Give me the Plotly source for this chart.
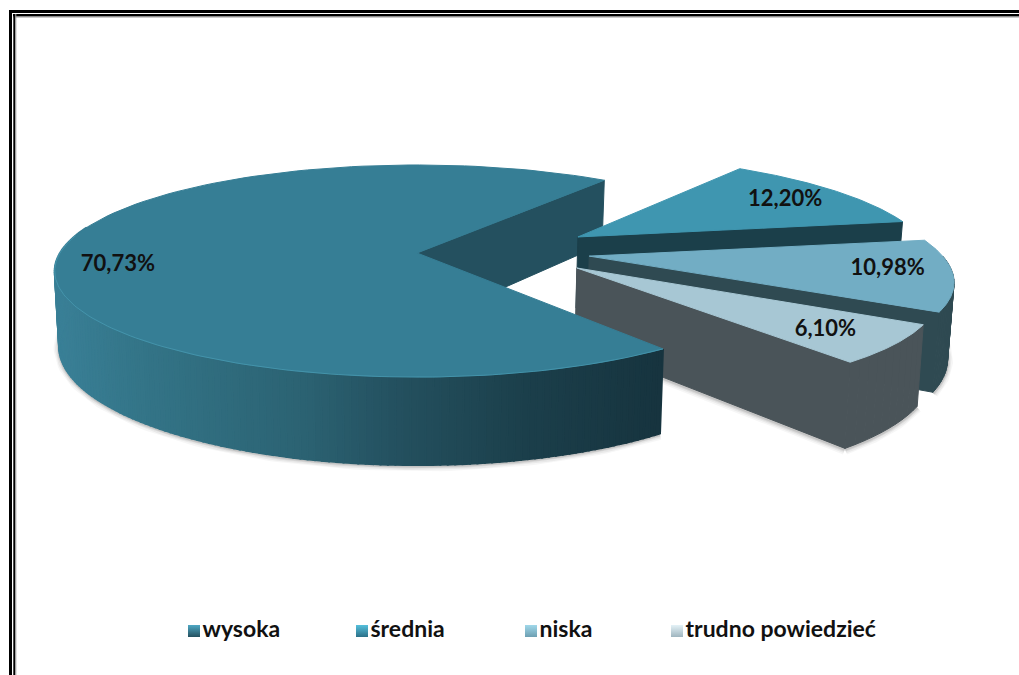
import numpy as np
import plotly.graph_objects as go

categories = ["wysoka", "średnia", "niska", "trudno powiedzieć"]
values = [70.73, 12.20, 10.98, 6.10]
first_angle = 142.0
main_front_trim = 1.5

top_colors = ["#367e95", "#3f96b0", "#72adc4", "#a7c7d4"]
face_colors = ["#24505f", "#1b3f4a", "#2f4a52", "#4a5459"]
legend_top = ["#4fa8c4", "#55c0dc", "#a0d8ea", "#e4f2f7"]
legend_bottom = ["#24505f", "#2c7088", "#6d9fb2", "#9fb5bf"]
explode_x = [0.0, 0.463, 0.48, 0.437]
explode_z = [0.0, 0.16, -0.03, -0.142]
radius = [1.0, 0.985, 0.985, 0.96]
label_theta = [264, 57.2, 96.6, 131]
label_r = [0.83, 0.8, 0.816, 0.77]
label_dy = 3
legend_x = [194, 362, 531, 677]
legend_y = 631

CX, CY, A, B, H, P, SHRINK = 417, 253, 357, 103, 73, 0.17, 0.012
FONT = "Lato"


def project(x, z, y=0.0):
    x, z = np.asarray(x, float), np.asarray(z, float)
    w = 1 + P * z
    return CX + A * x / w * (1 - SHRINK * y), CY + (-B * z + H * y) / w


def ring(i, th, y=0.0):
    t = np.radians(th)
    return project(explode_x[i] + radius[i] * np.sin(t), explode_z[i] + radius[i] * np.cos(t), y)


def lerp_color(sx):
    xs = [55, 140, 300, 400, 520, 662]
    rgb = np.array([[58, 128, 151], [52, 117, 136], [44, 99, 115], [36, 80, 95], [28, 64, 76], [23, 52, 63]])
    return "rgb(%d,%d,%d)" % tuple(np.interp(sx, xs, rgb[:, k]) for k in range(3))


fig = go.Figure()


def poly(xs, ys, color, width=1.0):
    fig.add_trace(go.Scatter(x=list(xs), y=list(ys), mode="lines", fill="toself", fillcolor=color,
                             line=dict(color=color, width=width), hoverinfo="skip", showlegend=False))


total = sum(values)
spans = [360 * v / total for v in values]
starts = [first_angle + sum(spans[:k]) for k in range(4)]
ends = [s + d for s, d in zip(starts, spans)]
starts[0] += main_front_trim


def arc(i, a=None, b=None):
    return np.linspace(starts[i] if a is None else a, ends[i] if b is None else b, 120)


def face(i, th):
    ax0, ay0 = project(explode_x[i], explode_z[i])
    ax1, ay1 = project(explode_x[i], explode_z[i], 1)
    ox0, oy0 = ring(i, th)
    ox1, oy1 = ring(i, th, 1)
    poly([ax0, ox0, ox1, ax1, ax0], [ay0, oy0, oy1, ay1, ay0], face_colors[i])


def top(i):
    xs, ys = ring(i, arc(i))
    ax, ay = project(explode_x[i], explode_z[i])
    poly(np.r_[ax, xs, ax], np.r_[ay, ys, ay], top_colors[i])


def rim(i, a, b, count=24, shade=None):
    edges = np.linspace(a, b, count + 1)
    for e0, e1 in zip(edges[:-1], edges[1:]):
        th = np.array([e0, e1])
        x0, y0 = ring(i, th)
        x1, y1 = ring(i, th, 1)
        col = shade(x0.mean()) if shade else face_colors[i]
        poly(np.r_[x0, x1[::-1], x0[0]], np.r_[y0, y1[::-1], y0[0]], col, width=2 if shade else 1)


# soft shadow under the lower outline
shadow_arcs = [(0, starts[0], 285), (2, 450, ends[2]), (3, starts[3], ends[3])]
for width, alpha in [(11, 0.035), (8, 0.05), (5, 0.07), (3, 0.09)]:
    for i, a, b in shadow_arcs:
        sx, sy = ring(i, arc(i, a, b), 1)
        fig.add_trace(go.Scatter(x=sx, y=sy + 1, mode="lines", hoverinfo="skip", showlegend=False,
                                 line=dict(color=f"rgba(0,0,0,{alpha})", width=width)))
    sx0, sy0 = project(explode_x[3], explode_z[3], 1)
    sx1, sy1 = ring(3, np.array([ends[3]]), 1)
    fig.add_trace(go.Scatter(x=[sx0, sx1[0]], y=[sy0 + 1, sy1[0] + 1], mode="lines", hoverinfo="skip",
                             showlegend=False, line=dict(color=f"rgba(0,0,0,{alpha})", width=width)))

# back cut face of the large slice, then the exploded slices back to front
face(0, ends[0])
face(1, ends[1])
top(1)
rim(2, 450, ends[2])
face(2, ends[2])
top(2)
rim(3, starts[3], ends[3], count=10)
face(3, ends[3])
top(3)

# large slice: shaded rim in strips, top surface, highlight
rim(0, starts[0], 285, count=140, shade=lerp_color)
top(0)
hx, hy = ring(0, arc(0, starts[0], 280))
fig.add_trace(go.Scatter(x=hx, y=hy, mode="lines", hoverinfo="skip", showlegend=False,
                         line=dict(color="rgba(80,165,190,0.55)", width=1)))

# percentage labels
lx, ly, lt = [], [], []
for i, v in enumerate(values):
    t = np.radians(label_theta[i])
    px, py = project(explode_x[i] + label_r[i] * np.sin(t), explode_z[i] + label_r[i] * np.cos(t))
    lx.append(float(px))
    ly.append(float(py) + label_dy)
    lt.append(f"{v:.2f}%".replace(".", ","))
fig.add_trace(go.Scatter(x=lx, y=ly, text=lt, mode="text", hoverinfo="skip", showlegend=False,
                         textfont=dict(family=FONT, size=22, color="#111111", weight="bold")))

# legend row
for i, c in enumerate(categories):
    fig.add_trace(go.Scatter(x=[legend_x[i]], y=[legend_y], text=[c], name=c, mode="markers+text",
                             textposition="middle right", hoverinfo="skip", showlegend=False,
                             marker=dict(symbol="square", size=12, color=legend_top[i], line=dict(width=0),
                                         gradient=dict(type="vertical", color=legend_bottom[i])),
                             textfont=dict(family=FONT, size=23, color="#111111", weight="bold")))


def hline(y, w, color):
    return dict(type="line", xref="x", yref="y", x0=(9 if w == 3 else 13), x1=1019, y0=y, y1=y,
                line=dict(color=color, width=w), layer="above")


def vline(x, w, color):
    return dict(type="line", xref="x", yref="y", x0=x, x1=x, y0=(10 if w == 3 else 14), y1=675,
                line=dict(color=color, width=w), layer="above")


fig.update_layout(
    width=1019, height=675, margin=dict(l=0, r=0, t=0, b=0),
    paper_bgcolor="white", plot_bgcolor="white", showlegend=False,
    xaxis=dict(range=[0, 1019], visible=False, fixedrange=True),
    yaxis=dict(range=[675, 0], visible=False, fixedrange=True),
    shapes=[hline(11.5, 3, "black"), hline(15.3, 2.5, "black"), hline(17, 1, "#999999"),
            vline(10.5, 3, "black"), vline(14.3, 2, "black"), vline(15.8, 1, "#999999")],
)
fig.write_html("out.html", config=dict(displayModeBar=False),
               post_script="document.body.style.margin='0';document.body.style.overflow='hidden';")
